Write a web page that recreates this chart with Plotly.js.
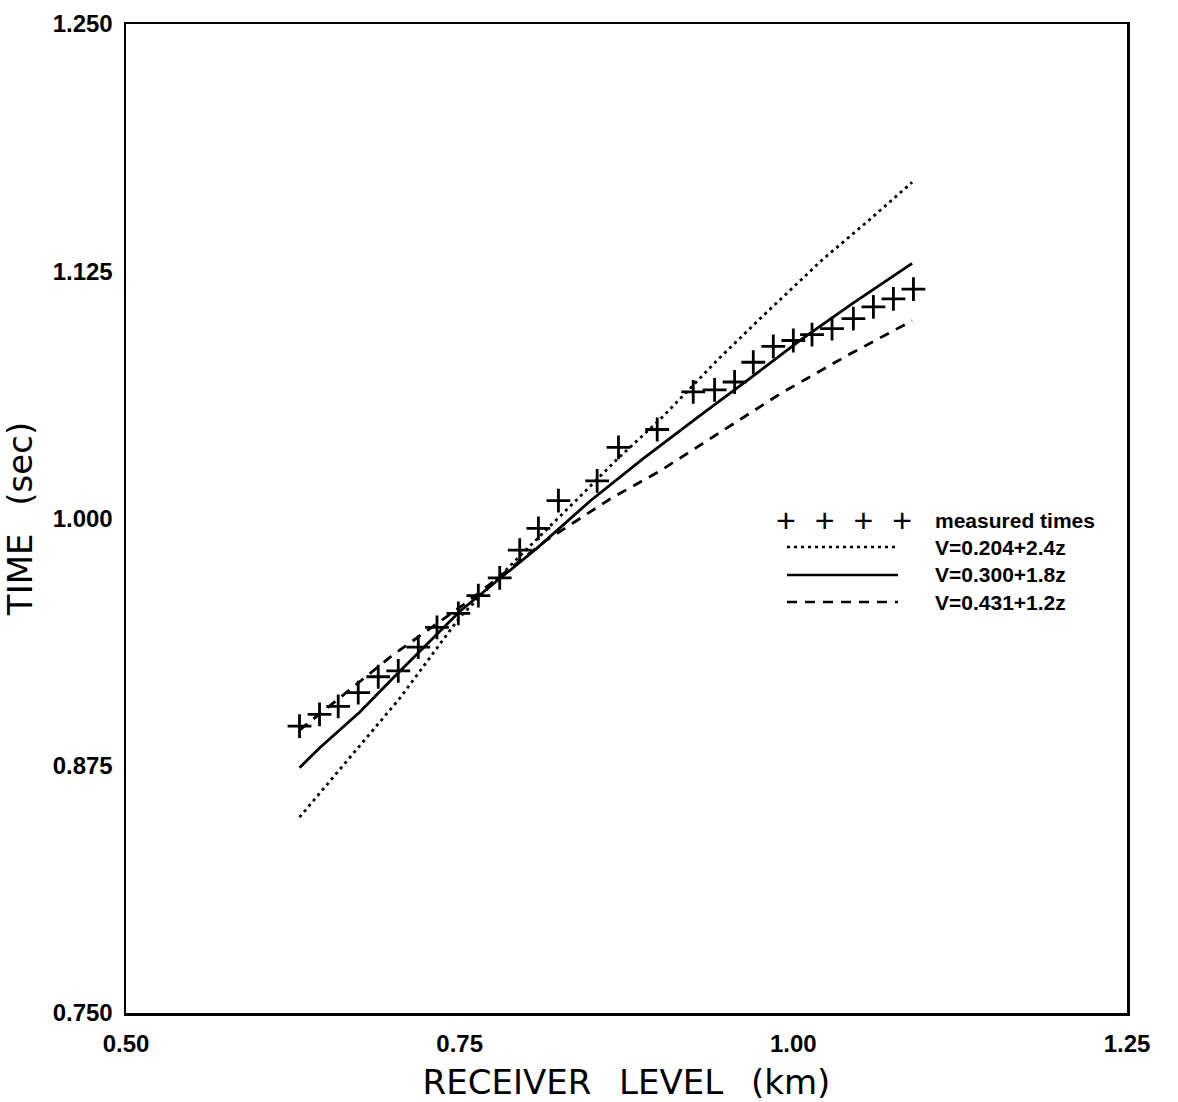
<!DOCTYPE html>
<html>
<head>
<meta charset="utf-8">
<script src="https://cdn.plot.ly/plotly-3.0.1.min.js"></script>
<style>html,body{margin:0;padding:0;background:#fff;}#chart{width:1178px;height:1102px;}</style>
</head>
<body>
<div id="chart"></div>
<script>
// Measured travel times
const measuredDepth = [0.630,0.645,0.659,0.674,0.689,0.704,0.719,0.733,0.749,0.764,0.780,0.795,0.809,0.824,0.853,0.869,0.898,0.925,0.941,0.956,0.970,0.985,1.000,1.014,1.029,1.045,1.060,1.075,1.090];
const measuredTime  = [0.895,0.901,0.905,0.912,0.920,0.923,0.935,0.945,0.952,0.961,0.970,0.984,0.995,1.009,1.019,1.036,1.045,1.064,1.065,1.069,1.079,1.087,1.090,1.093,1.096,1.101,1.107,1.111,1.116];

// Model V=0.204+2.4z (dotted)
const modelADepth = [0.630,0.705,0.750,0.795,0.840,0.868,0.900,0.943,0.975,1.022,1.057,1.089];
const modelATime  = [0.849,0.909,0.950,0.981,1.011,1.030,1.050,1.080,1.101,1.131,1.151,1.170];

// Model V=0.300+1.8z (solid)
const modelBDepth = [0.630,0.645,0.675,0.704,0.750,0.808,0.848,0.887,0.930,0.960,1.005,1.045,1.089];
const modelBTime  = [0.874,0.884,0.902,0.922,0.953,0.985,1.009,1.030,1.052,1.067,1.090,1.109,1.129];

// Model V=0.431+1.2z (dashed)
const modelCDepth = [0.630,0.700,0.754,0.815,0.863,0.900,0.990,1.042,1.089];
const modelCTime  = [0.893,0.931,0.957,0.989,1.010,1.024,1.063,1.083,1.100];

const seriesNames = ['measured times','V=0.204+2.4z','V=0.300+1.8z','V=0.431+1.2z'];
const xTicks = [0.50,0.75,1.00,1.25];
const xTickText = ['0.50','0.75','1.00','1.25'];
const yTicks = [0.750,0.875,1.000,1.125,1.250];
const yTickText = ['0.750','0.875','1.000','1.125','1.250'];

const traces = [
  {x: modelADepth, y: modelATime, mode:'lines', name: seriesNames[1],
   line:{color:'#000', width:2.8, dash:'3px,4px'}},
  {x: modelBDepth, y: modelBTime, mode:'lines', name: seriesNames[2],
   line:{color:'#000', width:2.8}},
  {x: modelCDepth, y: modelCTime, mode:'lines', name: seriesNames[3],
   line:{color:'#000', width:2.8, dash:'10px,8px'}},
  {x: measuredDepth, y: measuredTime, mode:'markers', name: seriesNames[0],
   marker:{symbol:'cross-thin-open', size:17, color:'#000', line:{color:'#000', width:2.8}}}
];

// legend drawn as a custom block inside the plot
const L = 126, R = 1127, T = 24, B = 1013;
const px = v => (v - L) / (R - L);
const py = v => (B - v) / (B - T);
const rowsY = [520, 547, 575, 602];
const dashes = ['3px,4px', 'solid', '10px,8px'];

const shapes = [];
for (let i = 0; i < 3; i++) {
  shapes.push({type:'line', xref:'paper', yref:'paper',
    x0: px(787), x1: px(898), y0: py(rowsY[i+1]), y1: py(rowsY[i+1]),
    line:{color:'#000', width:2.6, dash: dashes[i]}});
}

const annFont = {family:'Liberation Sans, Arial, sans-serif', size:21, color:'#000', weight:700};
const annotations = [
  {xref:'paper', yref:'paper', x: px(774), y: py(rowsY[0]), xanchor:'left', yanchor:'middle',
   text:'+&nbsp;&nbsp;+&nbsp;&nbsp;+&nbsp;&nbsp;+', showarrow:false,
   font:{family:'Liberation Sans, Arial, sans-serif', size:34, color:'#000', weight:400}}
];
for (let i = 0; i < 4; i++) {
  annotations.push({xref:'paper', yref:'paper', x: px(933), y: py(rowsY[i]), xanchor:'left', yanchor:'middle',
    text: seriesNames[i], showarrow:false, font: annFont});
}

const tickFont = {family:'Liberation Sans, Arial, sans-serif', size:24, color:'#000', weight:700};
const titleFont = {family:'DejaVu Sans, sans-serif', size:34, color:'#000'};

const layout = {
  width:1178, height:1102,
  margin:{l:L, r:1178-R, t:T, b:1102-B},
  paper_bgcolor:'#fff', plot_bgcolor:'#fff',
  showlegend:false,
  xaxis:{range:[0.5,1.25], tickvals:xTicks, ticktext:xTickText, ticks:'',
    showgrid:false, zeroline:false, showline:true, mirror:true, linecolor:'#000', linewidth:2.5,
    tickfont:tickFont, ticklabelstandoff:8,
    title:{text:'RECEIVER\u2002 LEVEL\u2002 (km)', font:titleFont, standoff:14}},
  yaxis:{range:[0.75,1.25], tickvals:yTicks, ticktext:yTickText, ticks:'',
    showgrid:false, zeroline:false, showline:true, mirror:true, linecolor:'#000', linewidth:2.5,
    tickfont:tickFont, ticklabelstandoff:6,
    title:{text:'TIME\u2002 (sec)', font:titleFont, standoff:14}},
  shapes: shapes,
  annotations: annotations
};

Plotly.newPlot('chart', traces, layout, {displayModeBar:false, staticPlot:true});
</script>
</body>
</html>
